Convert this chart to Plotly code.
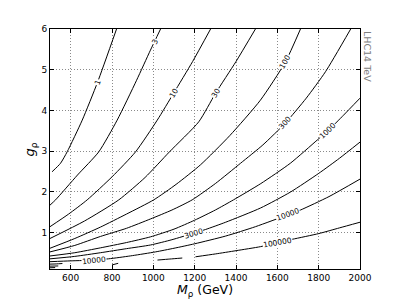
import plotly.graph_objects as go

# contour lines: M_rho (GeV) vs g_rho, one pair per level
m_1 = [510, 551, 583, 656, 730, 822]
g_1 = [2.49, 2.70, 2.98, 3.76, 4.69, 6.0]

m_3 = [500, 527, 633, 736, 825, 919, 986, 1035]
g_3 = [1.67, 1.80, 2.41, 2.98, 3.76, 4.74, 5.48, 6.0]

m_10 = [500, 590, 680, 801, 914, 1019, 1098, 1190, 1277]
g_10 = [1.14, 1.45, 1.80, 2.37, 2.98, 3.76, 4.42, 5.2, 6.0]

m_30 = [500, 667, 833, 960, 1078, 1220, 1301, 1400, 1494]
g_30 = [0.85, 1.28, 1.80, 2.35, 2.98, 3.72, 4.42, 5.2, 6.0]

m_100 = [500, 620, 744, 870, 1002, 1110, 1228, 1370, 1518, 1639, 1712]
g_100 = [0.61, 0.85, 1.13, 1.45, 1.80, 2.18, 2.66, 3.38, 4.25, 5.19, 6.0]

m_300 = [500, 620, 744, 870, 986, 1090, 1188, 1300, 1422, 1530, 1639, 1740, 1833, 1955]
g_300 = [0.52, 0.68, 0.90, 1.10, 1.33, 1.55, 1.80, 2.20, 2.70, 3.15, 3.69, 4.30, 4.95, 6.0]

m_1000 = [500, 620, 744, 870, 986, 1100, 1200, 1300, 1388, 1520, 1663, 1793, 1845, 1920, 2000]
g_1000 = [0.42, 0.50, 0.62, 0.75, 0.89, 1.08, 1.30, 1.55, 1.80, 2.20, 2.70, 3.27, 3.50, 3.88, 4.30]

m_3000 = [500, 620, 744, 870, 986, 1090, 1195, 1252, 1350, 1519, 1663, 1800, 1900, 2000]
g_3000 = [0.35, 0.41, 0.50, 0.60, 0.69, 0.82, 0.98, 1.07, 1.25, 1.60, 1.99, 2.45, 2.82, 3.22]

m_10000 = [500, 600, 720, 800, 900, 1010, 1100, 1200, 1350, 1494, 1650, 1712, 1850, 2000]
g_10000 = [0.28, 0.30, 0.32, 0.36, 0.43, 0.52, 0.61, 0.72, 0.91, 1.14, 1.43, 1.55, 1.88, 2.31]

m_100000 = [800, 830, None, 1020, 1080, 1140, None, 1204, 1300, 1400, 1519, 1600, 1672, 1800, 1900, 2000]
g_100000 = [0.20, 0.24, None, 0.32, 0.345, 0.37, None, 0.40, 0.47, 0.55, 0.65, 0.75, 0.83, 0.97, 1.11, 1.25]

# small fragments in the bottom-left corner
m_frag_a = [500, 530, 560]
g_frag_a = [0.22, 0.225, 0.235]
m_frag_b = [500, 540]
g_frag_b = [0.17, 0.175]
m_frag_c = [500, 525]
g_frag_c = [0.13, 0.135]

label_text = ["1", "3", "10", "30", "100", "300", "1000", "3000", "10000", "10000", "100000"]
label_m = [730, 1008, 1098, 1301, 1639, 1639, 1845, 1195, 715, 1650, 1603]
label_g = [4.69, 5.70, 4.42, 4.42, 5.19, 3.69, 3.50, 0.98, 0.32, 1.43, 0.755]
label_angle = [-70, -64, -59, -58, -61, -48, -45, -17, -6, -20, -10]

x_ticks = [600, 800, 1000, 1200, 1400, 1600, 1800, 2000]
y_ticks = [1, 2, 3, 4, 5, 6]

FONT = "DejaVu Sans, Liberation Sans, sans-serif"

lines = [
    (m_1, g_1), (m_3, g_3), (m_10, g_10), (m_30, g_30), (m_100, g_100),
    (m_300, g_300), (m_1000, g_1000), (m_3000, g_3000), (m_10000, g_10000),
    (m_100000, g_100000), (m_frag_a, g_frag_a), (m_frag_b, g_frag_b), (m_frag_c, g_frag_c),
]

fig = go.Figure()
for m, g in lines:
    fig.add_trace(
        go.Scatter(
            x=m, y=g, mode="lines",
            line={"color": "black", "width": 1, "shape": "spline", "smoothing": 0.6},
            hoverinfo="skip", showlegend=False,
        )
    )

for txt, m, g, ang in zip(label_text, label_m, label_g, label_angle):
    fig.add_annotation(
        x=m, y=g, xref="x", yref="y", text=txt, showarrow=False, textangle=ang,
        font={"family": FONT, "size": 7.5, "color": "black"},
        bgcolor="white", borderpad=0,
    )

fig.add_annotation(
    x=0.5, y=-0.088, xref="paper", yref="paper", showarrow=False,
    text="<i>M</i><sub>ρ</sub> (GeV)", yanchor="middle",
    font={"family": FONT, "size": 12.5, "color": "black"},
)
fig.add_annotation(
    x=-0.063, y=0.5, xref="paper", yref="paper", showarrow=False,
    text="<i>g</i><sub>ρ</sub>", textangle=-90, xanchor="center",
    font={"family": FONT, "size": 13, "color": "black"},
)
fig.add_annotation(
    x=1, y=1, xref="paper", yref="paper", showarrow=False, text="LHC14 TeV",
    textangle=90, xanchor="left", yanchor="top", xshift=0,
    font={"family": FONT, "size": 9.5, "color": "#808080"},
)

axis_style = dict(
    ticks="inside", ticklen=4, tickcolor="black", mirror="ticks",
    showline=True, linecolor="black", linewidth=1,
    showgrid=True, gridcolor="#8a8a8a", gridwidth=1, griddash="1px,2px",
    zeroline=False, tickfont={"family": FONT, "size": 9, "color": "black"},
)
fig.update_xaxes(range=[500, 2000], tickvals=x_ticks, **axis_style)
fig.update_yaxes(range=[0.1, 6], tickvals=y_ticks, **axis_style)

# the page body adds an 8px offset, so the figure is sized to fit the window
fig.update_layout(
    template="none",
    width=391, height=291,
    margin={"l": 42, "r": 39, "t": 21, "b": 30},
    plot_bgcolor="white", paper_bgcolor="white",
    showlegend=False,
)

fig.write_html("out.html")
